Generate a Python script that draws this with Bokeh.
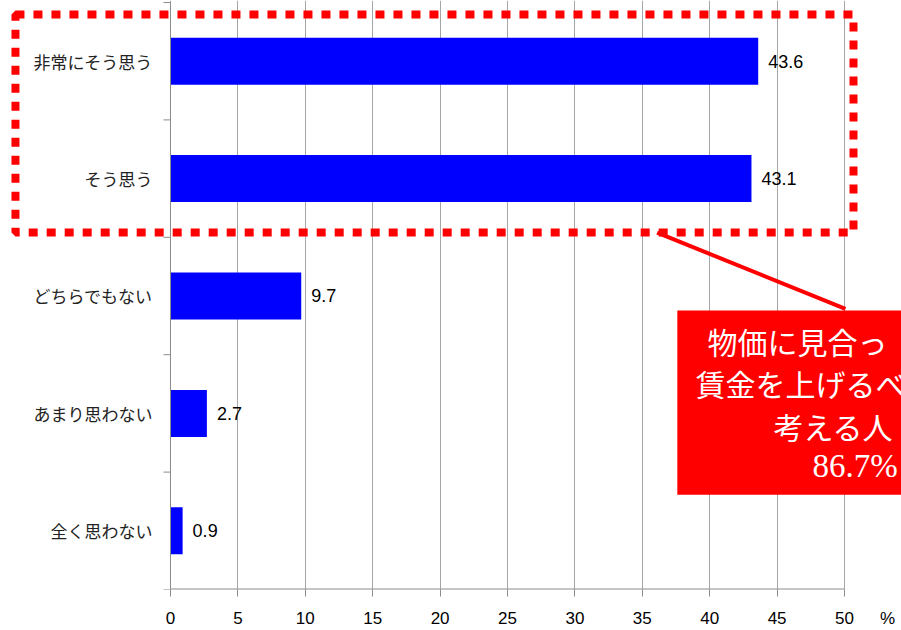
from bokeh.plotting import figure
from bokeh.models import FixedTicker, ColumnDataSource, Range1d, Grid
from bokeh.embed import file_html
from bokeh.resources import INLINE
from bokeh.core.properties import value

# ---- data ----
categories = ["非常にそう思う", "そう思う", "どちらでもない", "あまり思わない", "全く思わない"]
values = [43.6, 43.1, 9.7, 2.7, 0.9]
x_ticks = [0, 5, 10, 15, 20, 25, 30, 35, 40, 45, 50]
callout_lines = ["物価に見合っ", "賃金を上げるべ", "考える人"]
callout_total = "86.7%"
unit_label = "%"

n = len(categories)
ypos = [n - i - 0.5 for i in range(n)]
labels = [f"{v:.1f}" for v in values]
src = ColumnDataSource(dict(y=ypos, v=values, lab=labels))

JP = "Noto Sans CJK JP"
LAT = "Liberation Sans"
AXIS_COL = "#8c8c8c"
RED = "#ff0000"

p = figure(width=901, height=630, x_range=Range1d(-12.61, 54.23), y_range=Range1d(0, n + 0.017),
           output_backend="svg", toolbar_location=None, y_axis_location=None,
           min_border_left=0, min_border_right=0, min_border_top=0, min_border_bottom=39)
p.outline_line_color = None
p.background_fill_color = "white"
p.border_fill_color = "white"
for r in p.center:
    if isinstance(r, Grid) and r.dimension == 1:
        r.visible = False

# x axis (unit label "%" shown as an unticked label to the right of 50)
unit_pos = 53.19
p.xaxis.ticker = FixedTicker(ticks=x_ticks + [unit_pos], minor_ticks=x_ticks)
p.xaxis.major_label_overrides = {unit_pos: unit_label}
p.xaxis.axis_line_color = None
p.xaxis.major_tick_line_color = None
p.xaxis.major_tick_out = 7
p.xaxis.major_tick_in = 0
p.xaxis.minor_tick_line_color = AXIS_COL
p.xaxis.minor_tick_out = 7
p.xaxis.minor_tick_in = 0
p.xaxis.major_label_standoff = 12
p.xaxis.major_label_text_font = LAT
p.xaxis.major_label_text_font_size = "17px"
p.xaxis.major_label_text_color = "black"

p.xgrid.ticker = FixedTicker(ticks=x_ticks)
p.xgrid.grid_line_color = "#a6a6a6"

# bars and value labels
p.hbar(y="y", right="v", left=0, height=0.4, source=src, fill_color="#0000ff", line_color=None)
p.text(x="v", y="y", text="lab", source=src, x_offset=10, text_baseline="middle",
       text_font=value(LAT), text_font_size="18px", text_color="black")

# axis lines and category labels
p.segment(x0=[x_ticks[0]], y0=[0], x1=[x_ticks[-1]], y1=[0], line_color=AXIS_COL, line_width=2)
p.segment(x0=[0], y0=[0], x1=[0], y1=[n], line_color=AXIS_COL, line_width=1)
p.segment(x0=[-0.52] * (n + 1), y0=list(range(n + 1)), x1=[0] * (n + 1), y1=list(range(n + 1)),
          line_color=AXIS_COL, line_width=1)
p.text(x=[0] * n, y=ypos, text=categories, x_offset=-18, text_align="right", text_baseline="middle",
       text_font=value(JP), text_font_size="17px", text_color="#222222")

# highlight frame around the top two categories
p.quad(left=[-11.5], right=[50.67], top=[n - 0.102], bottom=[n - 2 + 0.04],
       fill_color=None, line_color=RED, line_width=8, line_dash="9 9")
# connector
p.segment(x0=[36.1], y0=[n - 2 + 0.04], x1=[50.07], y1=[2.39], line_color=RED, line_width=4)
# callout box
p.quad(left=[37.6], right=[62], top=[2.377], bottom=[0.806], fill_color=RED, line_color=None)
p.text(x=[39.84, 38.95, 44.73], y=[2.114, 1.757, 1.392], text=callout_lines,
       text_font=value(JP), text_font_size="30px", text_color="white",
       text_baseline="middle", text_align="left")
p.text(x=[47.63], y=[1.052], text=[callout_total], text_font=value("Liberation Serif"),
       text_font_size="33px", text_color="white", text_baseline="middle", text_align="left")

open("out.html", "w").write(file_html(p, INLINE))
